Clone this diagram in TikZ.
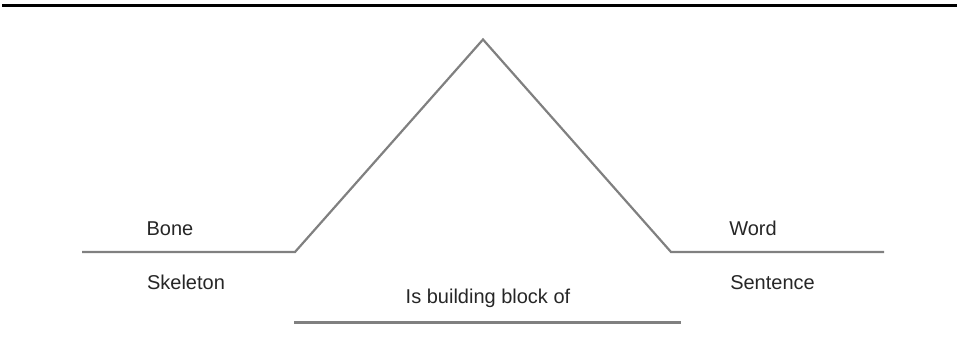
\documentclass[tikz,border=0pt]{standalone}
\usepackage{fontspec}
\setmainfont{Liberation Sans}
\begin{document}
\begin{tikzpicture}[x=1pt,y=-1pt,
  lbl/.style={font=\fontsize{20}{24}\selectfont, text=black!85, inner sep=0pt, anchor=base},
  gline/.style={draw=black!50, line width=2.2pt}]
\useasboundingbox (0,0) rectangle (957,355);
\coordinate (t1) at (2,5.5);
\coordinate (t2) at (957,5.5);
\draw[line width=2.4pt, black] (t1) -- (t2);
\coordinate (a) at (82,252);
\coordinate (b) at (295,252);
\coordinate (apex) at (483,39.5);
\coordinate (c) at (671,252);
\coordinate (d) at (884,252);
\draw[gline, line join=miter] (a) -- (b) -- (apex) -- (c) -- (d);
\coordinate (e) at (294,322.5);
\coordinate (f) at (681,322.5);
\draw[gline] (e) -- (f);
\node[lbl] (bone) at (170,235) {Bone};
\node[lbl] (skel) at (186,289) {Skeleton};
\node[lbl] (word) at (753,235) {Word};
\node[lbl] (sent) at (772.5,289) {Sentence};
\node[lbl] (isb) at (488,303) {Is building block of};
\end{tikzpicture}
\end{document}
